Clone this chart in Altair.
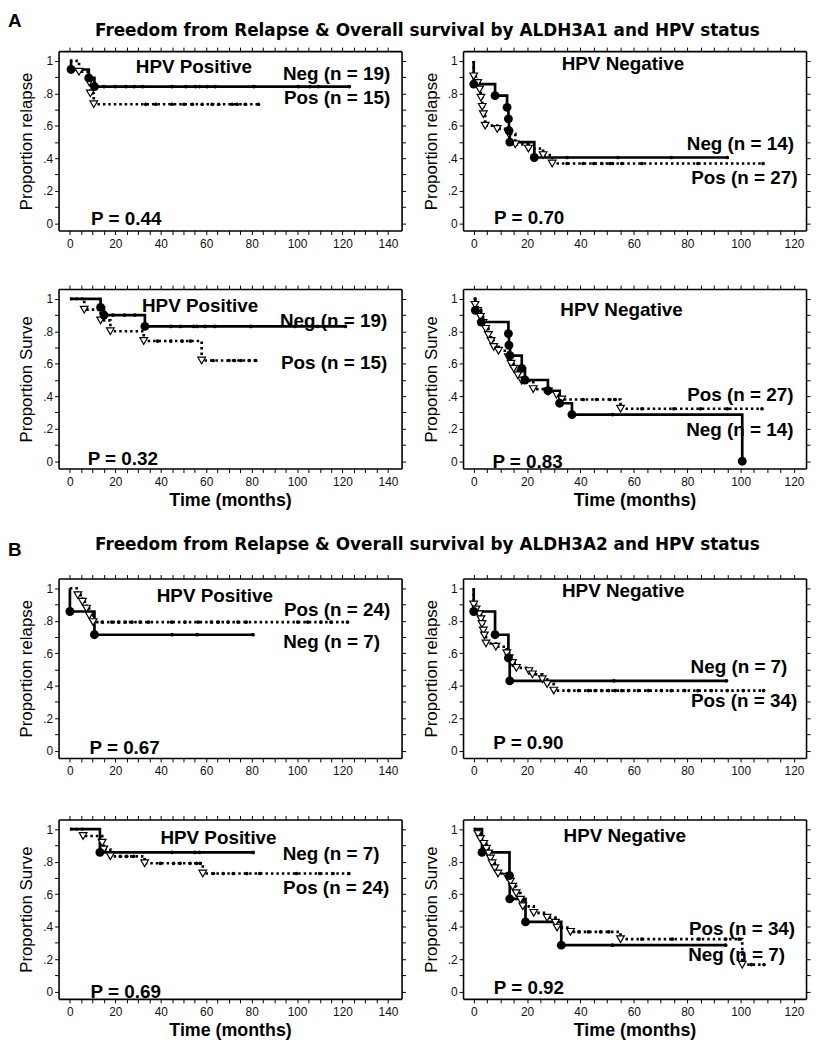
import altair as alt
import pandas as pd

FONT = "Liberation Sans"
TITLE_FONT = "DejaVu Sans"

TITLE_A = "Freedom from Relapse & Overall survival by ALDH3A1 and HPV status"
TITLE_B = "Freedom from Relapse & Overall survival by ALDH3A2 and HPV status"
Y_RELAPSE = "Proportion relapse"
Y_SURV = "Proportion Surve"
X_TITLE = "Time (months)"

# ---------------- Panel A1 (relapse, HPV positive) ----------------
A1_NEG_T = [0, 0.5, 8.3, 10.8]
A1_NEG_S = [1, 0.947, 0.895, 0.842]
A1_NEG_C = [15, 20, 24.7, 28.3, 32, 45, 51, 55.3, 57, 60.4, 64, 81, 100.6, 105.7, 109.4, 123]
A1_POS_T = [0, 4, 8.5, 9, 10.5]
A1_POS_S = [1, 0.933, 0.867, 0.8, 0.733]
A1_POS_C = [33.4, 37.8, 45, 50.2, 53.9, 58.2, 62.6, 65.5, 71.4, 73.6, 77.2, 83]
A1_TEXT = ["HPV Positive", "Neg (n = 19)", "Pos (n = 15)", "P = 0.44"]

# ---------------- Panel A2 (relapse, HPV negative) ----------------
A2_NEG_T = [0, 0, 8, 12.5, 13, 13.2, 13.5, 22.7]
A2_NEG_S = [1, 0.857, 0.786, 0.714, 0.643, 0.571, 0.5, 0.405]
A2_NEG_C = [35, 54, 74, 95]
A2_POS_T = [0, 0, 1.5, 2.2, 2.7, 3.2, 3.6, 4.3, 8.8, 13.1, 15.6, 20.5, 26, 29.4]
A2_POS_S = [1, 0.905, 0.864, 0.824, 0.773, 0.717, 0.672, 0.601, 0.581, 0.551, 0.486, 0.46, 0.42, 0.368]
A2_POS_C = [35, 41, 45, 48, 51, 52, 55.5, 63, 84, 108.4]
A2_TEXT = ["HPV Negative", "Neg (n = 14)", "Pos (n = 27)", "P = 0.70"]

# ---------------- Panel A3 (survival, HPV positive) ----------------
A3_NEG_T = [0, 13.5, 15, 33]
A3_NEG_S = [1, 0.947, 0.9, 0.83]
A3_NEG_C = [19, 24, 28.6, 44.4, 48.7, 54.5, 56, 59.5, 63.8, 79.6, 99, 109, 121.3]
A3_POS_T = [0, 6.3, 13.5, 17.8, 32.5, 58]
A3_POS_S = [1, 0.933, 0.867, 0.8, 0.74, 0.62]
A3_POS_C = [38.6, 44.4, 49.4, 53, 63, 70, 72.4, 75.3, 78.9, 81.8]
A3_TEXT = ["HPV Positive", "Neg (n = 19)", "Pos (n = 15)", "P = 0.32"]

# ---------------- Panel A4 (survival, HPV negative) ----------------
A4_NEG_T = [0, 0.6, 2.8, 13, 13.2, 13.6, 18, 19.2, 27.8, 32.2, 36.8, 100.6]
A4_NEG_S = [1, 0.929, 0.857, 0.786, 0.714, 0.65, 0.572, 0.5, 0.434, 0.357, 0.287, 0]
A4_NEG_C = [52]
A4_POS_T = [0, 0.5, 1.5, 2.5, 3.5, 4.5, 5.5, 6.5, 7.5, 9.3, 13, 14, 15, 16.5, 18, 22.3, 28, 31, 33, 55]
A4_POS_S = [1, 0.963, 0.926, 0.889, 0.852, 0.815, 0.778, 0.741, 0.704, 0.68, 0.64, 0.6, 0.57, 0.53, 0.495, 0.444, 0.43, 0.41, 0.38, 0.323]
A4_POS_C = [41, 46, 51, 53, 63, 75, 85, 95, 108]
A4_TEXT = ["HPV Negative", "Pos (n = 27)", "Neg (n = 14)", "P = 0.83"]

# ---------------- Panel B1 (relapse, HPV positive) ----------------
B1_NEG_T = [0, 0, 10.8]
B1_NEG_S = [1, 0.857, 0.714]
B1_NEG_C = [45, 56, 80.6]
B1_POS_T = [0, 3.5, 5.5, 7.3, 8.5, 10.2]
B1_POS_S = [1, 0.958, 0.917, 0.875, 0.833, 0.792]
B1_POS_C = [14.2, 18.5, 21.4, 24.4, 27.3, 30.9, 34.6, 44.8, 50.7, 56.5, 62.3, 65.3, 69.6, 74, 77.6,
            100.3, 104.7, 110.5, 114.9, 122.2]
B1_TEXT = ["HPV Positive", "Pos (n = 24)", "Neg (n = 7)", "P = 0.67"]

# ---------------- Panel B2 (relapse, HPV negative) ----------------
B2_NEG_T = [0, 0, 8, 13, 13.5]
B2_NEG_S = [1, 0.857, 0.714, 0.571, 0.43]
B2_NEG_C = [52.5, 94.7]
B2_POS_T = [0, 0, 0.9, 2.1, 2.7, 3.1, 3.6, 4, 4.6, 8.3, 12.4, 13.3, 14.5, 16, 20.7, 22, 25.7, 27.5, 30]
B2_POS_S = [1, 0.9, 0.87, 0.84, 0.81, 0.78, 0.74, 0.71, 0.66, 0.64, 0.6, 0.57, 0.54, 0.51, 0.49, 0.47,
            0.44, 0.41, 0.37]
B2_POS_C = [35.6, 39.3, 43, 45.5, 48, 50.5, 53, 55.5, 58, 61.7, 65.4, 70.3, 74, 79, 84, 89, 95, 101, 108.6]
B2_TEXT = ["HPV Negative", "Neg (n = 7)", "Pos (n = 34)", "P = 0.90"]

# ---------------- Panel B3 (survival, HPV positive) ----------------
B3_NEG_T = [0, 13.2]
B3_NEG_S = [1, 0.857]
B3_NEG_C = [45, 55, 57, 80.7]
B3_POS_T = [0, 5.8, 14.2, 14.9, 17.8, 32.9, 58.5]
B3_POS_S = [1, 0.958, 0.917, 0.875, 0.833, 0.79, 0.727]
B3_POS_C = [22.2, 25, 28, 39.8, 45.6, 48.5, 52.9, 55.8, 57.3, 63.2, 67.5, 71.9, 77.8, 83.6, 99.7, 110,
            115.8, 122.8]
B3_TEXT = ["HPV Positive", "Neg (n = 7)", "Pos (n = 24)", "P = 0.69"]

# ---------------- Panel B4 (survival, HPV negative) ----------------
B4_NEG_T = [0, 3.1, 13.4, 13.5, 19.4, 32.8]
B4_NEG_S = [1, 0.857, 0.714, 0.571, 0.429, 0.286]
B4_NEG_C = [52, 94.4]
B4_POS_T = [0, 1.6, 2.5, 3.75, 4.75, 5.6, 6.25, 6.9, 7.9, 9.1, 12.5, 13.75, 14.6, 15.9, 17.5, 18.4, 22.5,
            27.5, 30.6, 31.25, 36.25, 55, 100.6]
B4_POS_S = [1, 0.97, 0.94, 0.91, 0.88, 0.85, 0.82, 0.79, 0.76, 0.727, 0.707, 0.677, 0.646, 0.606, 0.566,
            0.525, 0.485, 0.455, 0.424, 0.394, 0.368, 0.323, 0.166]
B4_POS_C = [39.4, 43, 47.5, 50.6, 63, 74.4, 84.4, 94.4, 99.4, 104, 108.75]
B4_TEXT = ["HPV Negative", "Pos (n = 34)", "Neg (n = 7)", "P = 0.92"]

# ---------------- layout (annotation anchors in data units) ----------------
LAYOUT = {
    "A1": dict(xmax=140, hpv=(54.6, 0.96), l1=(141, 0.92), l2=(141, 0.77), p=(9.3, 0.024)),
    "A2": dict(xmax=120, hpv=(55.9, 0.98), l1=(120, 0.486), l2=(121.3, 0.277), p=(7.6, 0.034)),
    "A3": dict(xmax=140, hpv=(57.3, 0.955), l1=(139.7, 0.865), l2=(139.7, 0.604), p=(7.8, 0.016)),
    "A4": dict(xmax=120, hpv=(55.4, 0.93), l1=(119.8, 0.41), l2=(119.8, 0.19), p=(7, -0.005)),
    "B1": dict(xmax=140, hpv=(63.8, 0.954), l1=(141, 0.863), l2=(136.5, 0.671), p=(8.6, 0.016)),
    "B2": dict(xmax=120, hpv=(56, 0.98), l1=(117.5, 0.512), l2=(121.2, 0.305), p=(7.3, 0.044)),
    "B3": dict(xmax=140, hpv=(65.4, 0.943), l1=(136.3, 0.848), l2=(140.6, 0.636), p=(9.1, 0.0)),
    "B4": dict(xmax=120, hpv=(56.6, 0.96), l1=(120.4, 0.384), l2=(116.6, 0.226), p=(7.5, 0.024)),
}
X_DOMAIN = {140: [-5, 146], 120: [-4, 124.5]}
Y_DOMAIN = [-0.045, 1.06]
Y_TICKS = [0, 0.1, 0.2, 0.3, 0.4, 0.5, 0.6, 0.7, 0.8, 0.9, 1]
W, H = 346, 181


def step_value(T, S, c):
    v = S[0]
    for t, s in zip(T, S):
        if t <= c:
            v = s
    return v


def frames(T, S, C):
    end = max(T[-1], max(C))
    line = pd.DataFrame({"t": list(T) + [end], "s": list(S) + [S[-1]]})
    line["i"] = range(len(line))
    ev = pd.DataFrame({"t": T[1:], "s": S[1:]})
    ce = pd.DataFrame({"t": C, "s": [step_value(T, S, c) for c in C]})
    return line, ev, ce


def panel(key, neg, pos, texts, ytitle, xtitle, left):
    lay = LAYOUT[key]
    xmax = lay["xmax"]
    xs = alt.Scale(domain=X_DOMAIN[xmax], nice=False, zero=False)
    ys = alt.Scale(domain=Y_DOMAIN, nice=False, zero=False)
    xticks = list(range(0, xmax + 1, 5))
    common = dict(tickSize=4, tickColor="black", tickWidth=1, domainColor="black",
                  domainWidth=1.6, grid=False)
    ax_bottom = alt.Axis(orient="bottom", values=xticks,
                         labelExpr="datum.value % 20 == 0 ? datum.label : ''",
                         labelFont=FONT, labelFontSize=12, labelColor="#111", labelPadding=4,
                         labelOverlap=False, labelFlush=False,
                         titleFont=FONT, titleFontSize=18, titleFontWeight="bold",
                         titleColor="black", titlePadding=4, **common)
    ax_left = alt.Axis(orient="left", values=Y_TICKS,
                       labelExpr="datum.value == 0 ? '0' : datum.value == 1 ? '1' : "
                                 "(round(datum.value * 10) % 2 == 0 ? '.' + round(datum.value * 10) : '')",
                       labelFont=FONT, labelFontSize=12, labelColor="#111", labelPadding=2,
                       labelOverlap=False, labelFlush=False,
                       titleFont=FONT, titleFontSize=17, titleFontWeight="normal",
                       titleColor="black", titlePadding=7, **common)
    ax_top = alt.Axis(orient="top", values=xticks, labels=False, **common)
    ax_right = alt.Axis(orient="right", values=Y_TICKS, labels=False, **common)

    xn = alt.X("t:Q", scale=xs, axis=None)
    yn = alt.Y("s:Q", scale=ys, axis=None)

    neg_line, neg_ev, neg_c = frames(*neg)
    pos_line, pos_ev, pos_c = frames(*pos)

    layers = [
        alt.Chart(neg_line).mark_line(interpolate="step-after", color="black", strokeWidth=2.7).encode(
            x=alt.X("t:Q", scale=xs, axis=ax_bottom, title=xtitle),
            y=alt.Y("s:Q", scale=ys, axis=ax_left, title=ytitle),
            order="i:Q"),
        alt.Chart(pos_line).mark_line(interpolate="step-after", color="black", strokeWidth=2.7,
                                      strokeDash=[2.5, 3]).encode(x=xn, y=yn, order="i:Q"),
        alt.Chart(neg_c).mark_point(shape="circle", filled=True, color="black", size=14, opacity=1).encode(x=xn, y=yn),
        alt.Chart(pos_c).mark_point(shape="circle", filled=True, color="black", size=14, opacity=1).encode(x=xn, y=yn),
        alt.Chart(pos_ev).mark_point(shape="triangle-down", filled=True, fill="white", stroke="black",
                                     strokeWidth=1.2, size=60, opacity=1).encode(x=xn, y=yn),
        alt.Chart(neg_ev).mark_point(shape="circle", filled=True, color="black", size=80, opacity=1).encode(x=xn, y=yn),
    ]
    txt = dict(font=FONT, fontSize=19, fontWeight="bold", color="black", baseline="middle")
    hpv_df = pd.DataFrame({"t": [lay["hpv"][0]], "s": [lay["hpv"][1]], "txt": [texts[0]]})
    lab_df = pd.DataFrame({"t": [lay["l1"][0], lay["l2"][0]], "s": [lay["l1"][1], lay["l2"][1]],
                           "txt": [texts[1], texts[2]]})
    p_df = pd.DataFrame({"t": [lay["p"][0]], "s": [lay["p"][1]], "txt": [texts[3]]})
    layers += [
        alt.Chart(hpv_df).mark_text(align="center", **txt).encode(x=xn, y=yn, text="txt:N"),
        alt.Chart(lab_df).mark_text(align="right", **txt).encode(x=xn, y=yn, text="txt:N"),
        alt.Chart(p_df).mark_text(align="left", **txt).encode(x=xn, y=yn, text="txt:N"),
        alt.Chart(neg_line).mark_point(opacity=0).encode(
            x=alt.X("t:Q", scale=xs, axis=ax_top, title=None),
            y=alt.Y("s:Q", scale=ys, axis=ax_right, title=None)),
    ]
    if left:
        ext = pd.DataFrame({"k": [0]})
        layers.append(alt.Chart(ext).mark_point(opacity=0, size=1).encode(
            x=alt.value(-49), y=alt.value(0)))
    return alt.layer(*layers).resolve_axis(x="independent", y="independent").properties(width=W, height=H)


def header(letter, title, height, ly, ty, baseline):
    df = pd.DataFrame({"letter": [letter], "title": [title]})
    a = alt.Chart(df).mark_text(font=FONT, fontSize=19, fontWeight="bold", align="left",
                                baseline=baseline, color="black").encode(
        x=alt.value(-51), y=alt.value(ly), text="letter:N")
    t = alt.Chart(df).mark_text(font=TITLE_FONT, fontSize=17, fontWeight="bold", align="center",
                                baseline="middle", color="black").encode(
        x=alt.value(372), y=alt.value(ty), text="title:N")
    return alt.layer(a, t).properties(width=720, height=height)


A1 = panel("A1", (A1_NEG_T, A1_NEG_S, A1_NEG_C), (A1_POS_T, A1_POS_S, A1_POS_C), A1_TEXT, Y_RELAPSE, None, True)
A2 = panel("A2", (A2_NEG_T, A2_NEG_S, A2_NEG_C), (A2_POS_T, A2_POS_S, A2_POS_C), A2_TEXT, Y_RELAPSE, None, False)
A3 = panel("A3", (A3_NEG_T, A3_NEG_S, A3_NEG_C), (A3_POS_T, A3_POS_S, A3_POS_C), A3_TEXT, Y_SURV, X_TITLE, True)
A4 = panel("A4", (A4_NEG_T, A4_NEG_S, A4_NEG_C), (A4_POS_T, A4_POS_S, A4_POS_C), A4_TEXT, Y_SURV, X_TITLE, False)
B1 = panel("B1", (B1_NEG_T, B1_NEG_S, B1_NEG_C), (B1_POS_T, B1_POS_S, B1_POS_C), B1_TEXT, Y_RELAPSE, None, True)
B2 = panel("B2", (B2_NEG_T, B2_NEG_S, B2_NEG_C), (B2_POS_T, B2_POS_S, B2_POS_C), B2_TEXT, Y_RELAPSE, None, False)
B3 = panel("B3", (B3_NEG_T, B3_NEG_S, B3_NEG_C), (B3_POS_T, B3_POS_S, B3_POS_C), B3_TEXT, Y_SURV, X_TITLE, True)
B4 = panel("B4", (B4_NEG_T, B4_NEG_S, B4_NEG_C), (B4_POS_T, B4_POS_S, B4_POS_C), B4_TEXT, Y_SURV, X_TITLE, False)


def row(a, b):
    return alt.hconcat(a, b, spacing=62, bounds="flush")


block_a = alt.vconcat(row(A1, A2), row(A3, A4), spacing=35)
block_b = alt.vconcat(row(B1, B2), row(B3, B4), spacing=38)

chart = alt.vconcat(
    header("A", TITLE_A, 33, 0, 19, "top"),
    block_a,
    header("B", TITLE_B, 63, 40, 35, "middle"),
    block_b,
    spacing=1,
).properties(padding=0, background="white").configure_view(stroke="transparent", strokeWidth=0)

chart.save("out.html", embed_options={"renderer": "svg", "actions": False})
